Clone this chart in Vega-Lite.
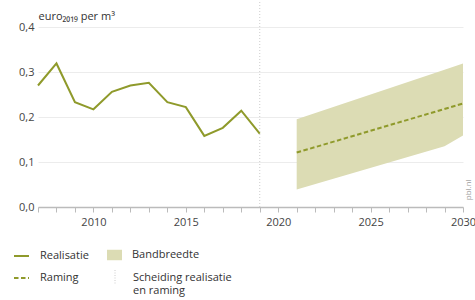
{
  "$schema": "https://vega.github.io/schema/vega-lite/v6.json",
  "width": 425,
  "height": 180,
  "autosize": {"type": "none"},
  "padding": {"left": 38, "top": 27, "right": 12, "bottom": 93},
  "config": {
    "font": "Open Sans",
    "view": {"stroke": null},
    "axis": {"labelFont": "Open Sans", "labelColor": "#444", "labelFontSize": 11, "titleFont": "Open Sans"},
    "legend": {"labelFont": "Open Sans", "labelFontSize": 11, "labelColor": "#333", "labelOffset": 10, "labelLimit": 300, "symbolSize": 225, "padding": 0, "title": null}
  },
  "datasets": {
    "real": [
      {"year": 2007, "value": 0.270, "series": "Realisatie"},
      {"year": 2008, "value": 0.319, "series": "Realisatie"},
      {"year": 2009, "value": 0.233, "series": "Realisatie"},
      {"year": 2010, "value": 0.217, "series": "Realisatie"},
      {"year": 2011, "value": 0.256, "series": "Realisatie"},
      {"year": 2012, "value": 0.270, "series": "Realisatie"},
      {"year": 2013, "value": 0.276, "series": "Realisatie"},
      {"year": 2014, "value": 0.233, "series": "Realisatie"},
      {"year": 2015, "value": 0.222, "series": "Realisatie"},
      {"year": 2016, "value": 0.158, "series": "Realisatie"},
      {"year": 2017, "value": 0.176, "series": "Realisatie"},
      {"year": 2018, "value": 0.214, "series": "Realisatie"},
      {"year": 2019, "value": 0.163, "series": "Realisatie"}
    ],
    "raming": [
      {"year": 2021, "value": 0.121, "series": "Raming"},
      {"year": 2030, "value": 0.230, "series": "Raming"}
    ],
    "band": [
      {"year": 2021, "lo": 0.039, "hi": 0.195, "series": "Bandbreedte"},
      {"year": 2029, "lo": 0.135, "hi": 0.305, "series": "Bandbreedte"},
      {"year": 2030, "lo": 0.159, "hi": 0.319, "series": "Bandbreedte"}
    ],
    "sep": [
      {"year": 2019, "y0": 0, "y1": 0.46, "series": "Scheiding realisatie en raming"}
    ],
    "note": [
      {"year": 2030, "value": 0.015, "label": "pbl.nl"}
    ]
  },
  "layer": [
    {
      "data": {"name": "band"},
      "mark": {"type": "area", "opacity": 1},
      "encoding": {
        "x": {
          "field": "year", "type": "quantitative",
          "scale": {"domain": [2007, 2030], "nice": false, "zero": false},
          "axis": {
            "title": null, "grid": false, "tickCount": 40,
            "values": [2007,2008,2009,2010,2011,2012,2013,2014,2015,2016,2017,2018,2019,2020,2021,2022,2023,2024,2025,2026,2027,2028,2029,2030],
            "labelExpr": "datum.value % 5 === 0 ? format(datum.value, 'd') : ''",
            "labelOverlap": false, "labelBound": false, "labelFlush": false,
            "domainColor": "#bbbbbb", "domainWidth": 1.5,
            "tickColor": "#bbbbbb", "tickSize": 5, "tickWidth": 1,
            "labelPadding": 4
          }
        },
        "y": {
          "field": "lo", "type": "quantitative",
          "scale": {"domain": [0, 0.4], "nice": false},
          "axis": {
            "values": [0, 0.1, 0.2, 0.3, 0.4], "tickCount": 10,
            "labelExpr": "replace(format(datum.value, '.1f'), '.', ',')",
            "domain": false, "ticks": false, "labelPadding": 4,
            "gridColor": "#ececec", "gridWidth": 1,
            "title": "euro₂₀₁₉ per m³",
            "titleAngle": 0, "titleAlign": "left", "titleBaseline": "alphabetic",
            "titleX": 0, "titleY": -8, "titleFontSize": 11, "titleFontWeight": "normal", "titleColor": "#333"
          }
        },
        "y2": {"field": "hi"},
        "fill": {
          "field": "series", "type": "nominal",
          "scale": {"domain": ["Bandbreedte"], "range": ["#dcdcb4"]},
          "legend": {
            "orient": "none", "legendX": 69, "legendY": 220.5,
            "symbolType": "M-1,-0.7L1,-0.7L1,0.7L-1,0.7Z", "symbolStrokeWidth": 0, "symbolOpacity": 1
          }
        }
      }
    },
    {
      "data": {"name": "raming"},
      "mark": {"type": "line", "strokeWidth": 2, "color": "#8f9a2b"},
      "encoding": {
        "x": {"field": "year", "type": "quantitative"},
        "y": {"field": "value", "type": "quantitative"},
        "strokeDash": {
          "field": "series", "type": "nominal",
          "scale": {"domain": ["Raming"], "range": [[4.5, 2.5]]},
          "legend": {
            "orient": "none", "legendX": -25, "legendY": 242.5,
            "symbolType": "stroke", "symbolStrokeColor": "#8f9a2b", "symbolStrokeWidth": 2
          }
        }
      }
    },
    {
      "data": {"name": "real"},
      "mark": {"type": "line", "strokeWidth": 2},
      "encoding": {
        "x": {"field": "year", "type": "quantitative"},
        "y": {"field": "value", "type": "quantitative"},
        "color": {
          "field": "series", "type": "nominal",
          "scale": {"domain": ["Realisatie"], "range": ["#8f9a2b"]},
          "legend": {
            "orient": "none", "legendX": -25, "legendY": 220.5,
            "symbolType": "stroke", "symbolStrokeWidth": 2
          }
        }
      }
    },
    {
      "data": {"name": "sep"},
      "mark": {"type": "rule", "strokeWidth": 1, "strokeDash": [1, 2]},
      "encoding": {
        "x": {"field": "year", "type": "quantitative"},
        "y": {"field": "y0", "type": "quantitative"},
        "y2": {"field": "y1"},
        "stroke": {
          "field": "series", "type": "nominal",
          "scale": {"domain": ["Scheiding realisatie en raming"], "range": ["#cccccc"]},
          "legend": {
            "orient": "none", "legendX": 69, "legendY": 242.5,
            "symbolType": "M0,-1L0,1", "symbolDash": [1, 1.5], "symbolStrokeWidth": 1,
            "labelExpr": "['Scheiding realisatie', 'en raming']"
          }
        }
      }
    },
    {
      "data": {"name": "note"},
      "mark": {"type": "text", "angle": 270, "align": "left", "baseline": "middle", "dy": 6, "fontSize": 8, "color": "#999999", "font": "Open Sans"},
      "encoding": {
        "x": {"field": "year", "type": "quantitative"},
        "y": {"field": "value", "type": "quantitative"},
        "text": {"field": "label"}
      }
    }
  ],
  "resolve": {"scale": {"color": "independent", "fill": "independent", "stroke": "independent", "strokeDash": "independent"}}
}
